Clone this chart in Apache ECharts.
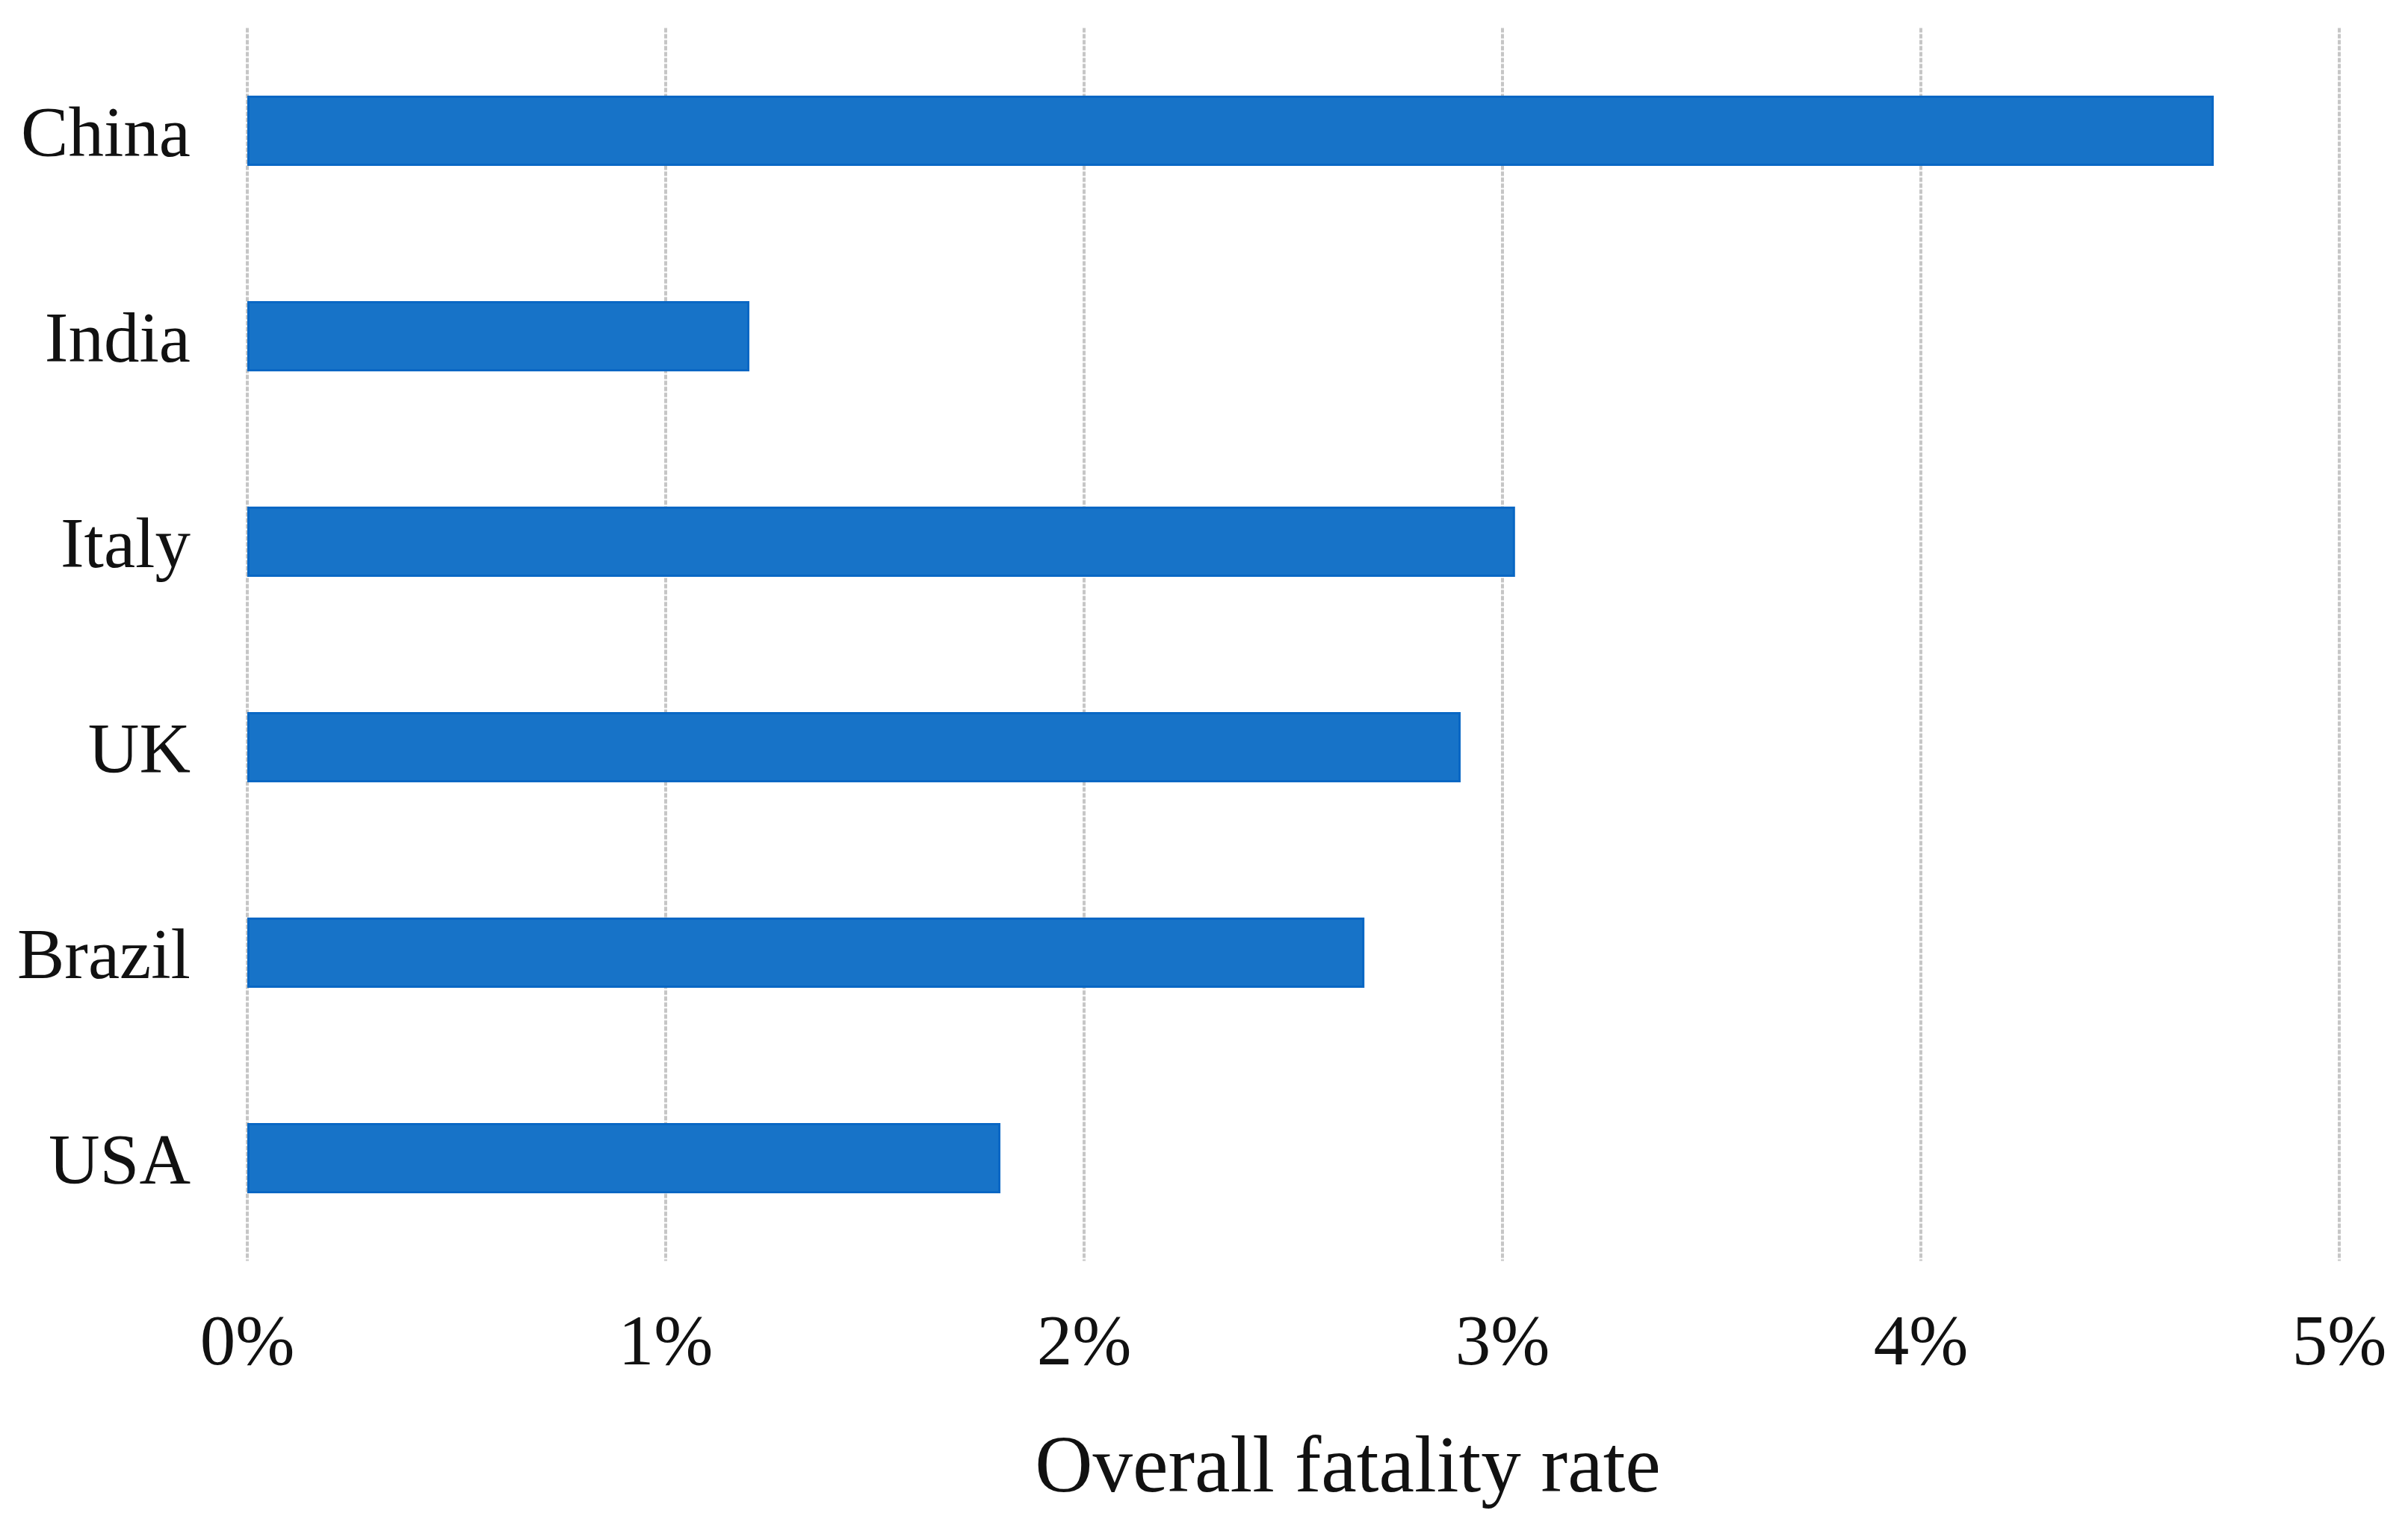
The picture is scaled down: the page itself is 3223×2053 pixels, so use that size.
<!DOCTYPE html>
<html>
<head>
<meta charset="utf-8">
<script src="https://cdn.jsdelivr.net/npm/echarts@6/dist/echarts.min.js"></script>
<style>
html,body{margin:0;padding:0;background:#fff;}
#chart{width:3223px;height:2053px;}
</style>
</head>
<body>
<div id="chart"></div>
<script>
const categories = ["China", "India", "Italy", "UK", "Brazil", "USA"];
const fatalityRate = [4.7, 1.2, 3.03, 2.9, 2.67, 1.8];
const xTicks = { min: 0, max: 5, interval: 1 };
const xAxisTitle = "Overall fatality rate";

const chart = echarts.init(document.getElementById('chart'), null, { renderer: 'canvas' });
const serif = '"Liberation Serif", "Times New Roman", serif';
chart.setOption({
  backgroundColor: '#ffffff',
  animation: false,
  grid: { left: 331, right: 92, top: 37.5, bottom: 365.5, containLabel: false },
  xAxis: {
    type: 'value',
    min: xTicks.min, max: xTicks.max, interval: xTicks.interval,
    axisLine: { show: false },
    axisTick: { show: false },
    splitLine: { show: true, lineStyle: { color: '#c6c6c6', width: 4, type: [6, 2] } },
    axisLabel: { formatter: '{value}%', fontFamily: serif, fontSize: 95, color: '#111', margin: 66 },
    name: xAxisTitle,
    nameLocation: 'middle',
    nameGap: 227,
    nameTextStyle: { fontFamily: serif, fontSize: 107, color: '#111', lineHeight: 107, padding: [0, 0, 0, 146] }
  },
  yAxis: {
    type: 'category',
    data: categories,
    inverse: true,
    axisLine: { show: false },
    axisTick: { show: false },
    splitLine: { show: false },
    axisLabel: {
      fontFamily: serif, fontSize: 95, color: '#111', margin: 76,
      formatter: function (v) { return '{c|' + v + '}'; },
      rich: { c: { fontFamily: serif, fontSize: 95, color: '#111', lineHeight: 95, padding: [18, 0, 0, 0] } }
    }
  },
  series: [{
    type: 'bar',
    data: fatalityRate,
    barWidth: '34.2%',
    itemStyle: { color: '#1773c8', borderColor: '#0967c4', borderWidth: 3 }
  }]
});
</script>
</body>
</html>
